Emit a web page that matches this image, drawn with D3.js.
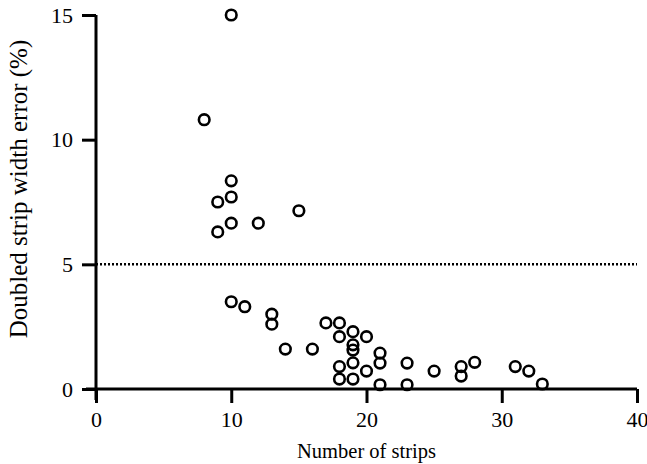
<!DOCTYPE html>
<html>
<head>
<meta charset="utf-8">
<script src="https://d3js.org/d3.v7.min.js"></script>
<style>
  body { margin: 0; background: #fff; }
  text { font-family: "Liberation Serif", "Times New Roman", serif; fill: #000; }
</style>
</head>
<body>
<svg id="chart"></svg>
<script>
  // number of strips vs doubled strip width error (%)
  const strips = [10, 8, 10, 9, 10, 12, 15, 9, 10,
                  10, 11, 13, 13, 14, 16, 17,
                  18, 18, 18, 18, 19, 19, 19, 19, 19, 20, 20,
                  21, 21, 21, 23, 23, 25, 27, 27, 28, 31, 32, 33]
  const errors = [15, 10.8, 8.35, 7.5, 7.7, 6.65, 7.15, 6.3, 6.65,
                  3.5, 3.3, 3.0, 2.6, 1.6, 1.6, 2.65,
                  2.65, 2.1, 0.9, 0.4, 2.3, 1.77, 1.56, 1.05, 0.4, 2.1, 0.72,
                  1.44, 1.04, 0.17, 1.04, 0.17, 0.72, 0.9, 0.52, 1.07, 0.9, 0.72, 0.2]
  const xTicks = [0, 10, 20, 30, 40]
  const yTicks = [0, 5, 10, 15]
  const threshold = 5

  const w = 647, h = 464

  const svg = d3.select('#chart')
      .attr('width', w)
      .attr('height', h)

  const x = d3.scaleLinear([0, 40], [96, 637])
  const y = d3.scaleLinear([0, 15], [389, 15])

  // x axis
  const xAxis = svg.append('g')
      .attr('transform', `translate(0, ${y(0)})`)
      .call(d3.axisBottom(x).tickValues(xTicks).tickSize(14).tickPadding(8).tickSizeOuter(0))
  xAxis.select('.domain').attr('stroke-width', 3).attr('d', `M${x(0) - 10},0H${x(40)}`)
  xAxis.selectAll('.tick line').attr('stroke-width', 3)
  xAxis.selectAll('.tick text').attr('font-size', 22).attr('font-family', 'Liberation Serif')

  // y axis
  const yAxis = svg.append('g')
      .attr('transform', `translate(${x(0)}, 0)`)
      .call(d3.axisLeft(y).tickValues(yTicks).tickSize(14).tickPadding(9).tickSizeOuter(0))
  yAxis.select('.domain').attr('stroke-width', 3).attr('d', `M0,${y(15)}V${y(0) + 11}`)
  yAxis.selectAll('.tick line').attr('stroke-width', 3)
  yAxis.selectAll('.tick text').attr('font-size', 22).attr('font-family', 'Liberation Serif')

  // 5% threshold
  svg.append('line')
      .attr('x1', x(0)).attr('x2', x(40))
      .attr('y1', y(threshold)).attr('y2', y(threshold))
      .attr('stroke', '#000')
      .attr('stroke-width', 2.5)
      .attr('stroke-dasharray', '2,2')

  svg.append('g').selectAll('circle')
      .data(strips.map((s, i) => ({s, e: errors[i]})))
      .enter().append('circle')
      .attr('cx', d => x(d.s))
      .attr('cy', d => y(d.e))
      .attr('r', 5.3)
      .attr('fill', 'none')
      .attr('stroke', '#000')
      .attr('stroke-width', 2.6)

  svg.append('text')
      .attr('x', (x(0) + x(40)) / 2)
      .attr('y', 458)
      .attr('text-anchor', 'middle')
      .attr('font-size', 20.5)
      .text('Number of strips')

  svg.append('text')
      .attr('transform', 'translate(27, 189) rotate(-90)')
      .attr('text-anchor', 'middle')
      .attr('font-size', 25)
      .text('Doubled strip width error (%)')
</script>
</body>
</html>
